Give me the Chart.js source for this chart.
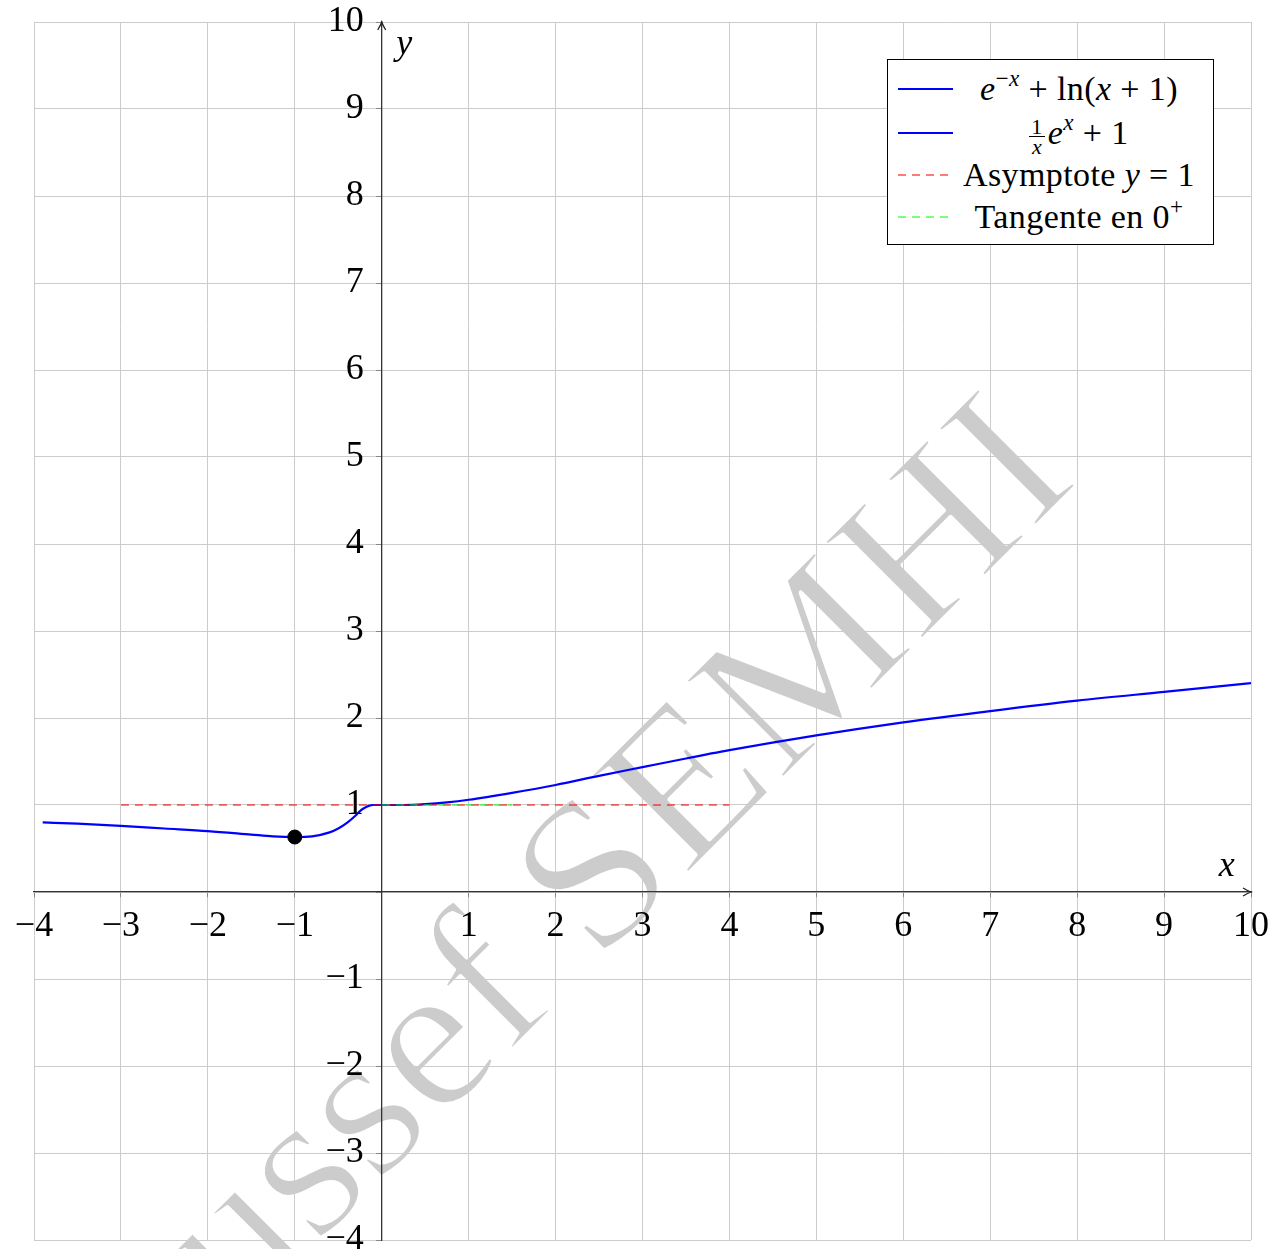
<!DOCTYPE html>
<html>

<head>
    <title>Courbes</title>
    <script src="https://cdn.jsdelivr.net/npm/chart.js"></script>
    <style>
        body { margin: 0; background: #fff; }
        #wrap { position: relative; width: 1286px; height: 1249px; }
        #legend {
            position: absolute; left: 887px; top: 59px; width: 325px; height: 184px;
            border: 1px solid #000; background: #fff;
            font-family: "Liberation Serif", serif; font-size: 34px; color: #000;
        }
        .row { position: absolute; left: 0; width: 325px; height: 40px; }
        .row svg { position: absolute; left: 10px; top: 15px; }
        .row .txt { position: absolute; left: 68px; width: 246px; text-align: center; line-height: 40px; white-space: nowrap; letter-spacing: 0.4px; }
        .sup { font-size: 0.68em; position: relative; top: -0.6em; }
        .frac { display: inline-block; vertical-align: middle; font-size: 22px; line-height: 19px; text-align: center; margin-right: 3px; }
        .frac span { display: block; }
        .frac .num { border-bottom: 1px solid #000; padding: 0 2px; }
    </style>
</head>

<body>
    <div id="wrap">
        <canvas id="chart" width="1286" height="1249"></canvas>
        <div id="legend">
            <div class="row" style="top:9px">
                <svg width="56" height="10"><line x1="0" y1="5" x2="55" y2="5" stroke="#0000ff" stroke-width="2"/></svg>
                <div class="txt"><i>e</i><span class="sup">−<i>x</i></span> + ln(<i>x</i> + 1)</div>
            </div>
            <div class="row" style="top:53px">
                <svg width="56" height="10"><line x1="0" y1="5" x2="55" y2="5" stroke="#0000ff" stroke-width="2"/></svg>
                <div class="txt"><span class="frac"><span class="num">1</span><span><i>x</i></span></span><i>e</i><span class="sup"><i>x</i></span> + 1</div>
            </div>
            <div class="row" style="top:95px">
                <svg width="56" height="10"><line x1="0" y1="5" x2="55" y2="5" stroke="rgba(255,0,0,0.7)" stroke-width="1.3" stroke-dasharray="8 6"/></svg>
                <div class="txt">Asymptote <i>y</i> = 1</div>
            </div>
            <div class="row" style="top:137px">
                <svg width="56" height="10"><line x1="0" y1="5" x2="55" y2="5" stroke="rgba(0,255,0,0.7)" stroke-width="1.3" stroke-dasharray="8 6"/></svg>
                <div class="txt">Tangente en 0<span class="sup">+</span></div>
            </div>
        </div>
    </div>

    <script type="text/javascript">
        // values
        const leftX = [-3.9, -3.5, -3, -2.5, -2, -1.5, -1.25, -1, -0.8, -0.6, -0.5, -0.4, -0.3, -0.25, -0.2, -0.15, -0.1, 0]
        const leftY = [0.80, 0.785, 0.76, 0.73, 0.70, 0.66, 0.64, 0.632, 0.64, 0.685, 0.73, 0.795, 0.88, 0.93, 0.965, 0.99, 1.0, 1.0]

        const rightX = [0, 0.25, 0.5, 0.75, 1, 1.5, 2, 2.5, 3, 3.5, 4, 5, 6, 7, 8, 9, 10]
        const rightY = [1.0, 1.0, 1.01, 1.03, 1.06, 1.14, 1.23, 1.335, 1.435, 1.535, 1.63, 1.80, 1.95, 2.08, 2.20, 2.30, 2.40]

        const asymX = [-3, 4]
        const asymY = [1, 1]
        const tanX = [0, 1.5]
        const tanY = [1, 1]
        const dotX = [-1]
        const dotY = [0.632]

        const xTicks = [-4, -3, -2, -1, 0, 1, 2, 3, 4, 5, 6, 7, 8, 9, 10]
        const yTicks = [-4, -3, -2, -1, 0, 1, 2, 3, 4, 5, 6, 7, 8, 9, 10]

        const pts = (xs, ys) => xs.map((x, i) => ({x: x, y: ys[i]}))
        const fmt = v => v === 0 ? '' : (v < 0 ? '\u2212' + Math.abs(v) : String(v))
        const tickFont = {family: '"Liberation Serif", serif', size: 36}

        const decor = {
            id: 'decor',
            beforeDraw(chart) {
                // watermark, thinned with a white outline
                const ctx = chart.ctx
                ctx.save()
                ctx.translate(1082, 480)
                ctx.rotate(-Math.PI / 4)
                ctx.scale(1.04, 1)
                ctx.font = '212px "Liberation Serif"'
                ctx.textAlign = 'right'
                ctx.textBaseline = 'alphabetic'
                ctx.fillStyle = '#cccccc'
                ctx.fillText('Youssef SEMHI', 0, 0)
                ctx.strokeStyle = '#ffffff'
                ctx.lineWidth = 4
                ctx.lineJoin = 'round'
                ctx.strokeText('Youssef SEMHI', 0, 0)
                ctx.restore()
            },
            afterDraw(chart) {
                const ctx = chart.ctx
                const sx = chart.scales.x, sy = chart.scales.y
                const x0 = sx.getPixelForValue(0), y0 = sy.getPixelForValue(0)
                const xe = sx.getPixelForValue(10), ye = sy.getPixelForValue(10)
                ctx.save()
                ctx.strokeStyle = '#222'
                ctx.lineWidth = 1.3
                ctx.beginPath()
                ctx.moveTo(xe - 8, y0 - 4); ctx.quadraticCurveTo(xe - 3, y0 - 1, xe, y0)
                ctx.quadraticCurveTo(xe - 3, y0 + 1, xe - 8, y0 + 4)
                ctx.moveTo(x0 - 4, ye + 8); ctx.quadraticCurveTo(x0 - 1, ye + 3, x0, ye)
                ctx.quadraticCurveTo(x0 + 1, ye + 3, x0 + 4, ye + 8)
                ctx.stroke()
                ctx.fillStyle = '#000'
                ctx.font = 'italic 36px "Liberation Serif"'
                ctx.textAlign = 'center'
                ctx.textBaseline = 'middle'
                ctx.fillText('x', sx.getPixelForValue(9.72), sy.getPixelForValue(0.29))
                ctx.fillText('y', sx.getPixelForValue(0.26), sy.getPixelForValue(9.74))
                ctx.restore()
            }
        }

        const ctx = document.getElementById('chart')
        let chart = new Chart(ctx, {
            type: 'scatter',
            data: {
                datasets: [{
                        data: pts(dotX, dotY),
                        backgroundColor: '#000',
                        borderColor: '#000',
                        pointRadius: 7,
                        order: 0
                    },
                    {
                        data: pts(tanX, tanY),
                        showLine: true,
                        borderColor: 'rgba(0,255,0,0.7)',
                        borderWidth: 1.3,
                        borderDash: [8, 6],
                        pointRadius: 0,
                        order: 1
                    },
                    {
                        data: pts(asymX, asymY),
                        showLine: true,
                        borderColor: 'rgba(255,0,0,0.7)',
                        borderWidth: 1.3,
                        borderDash: [8, 6],
                        pointRadius: 0,
                        order: 2
                    },
                    {
                        data: pts(rightX, rightY),
                        showLine: true,
                        borderColor: '#0000ff',
                        borderWidth: 2.2,
                        cubicInterpolationMode: 'monotone',
                        pointRadius: 0,
                        order: 3
                    },
                    {
                        data: pts(leftX, leftY),
                        showLine: true,
                        borderColor: '#0000ff',
                        borderWidth: 2.2,
                        cubicInterpolationMode: 'monotone',
                        pointRadius: 0,
                        order: 4
                    },
                ]
            },
            options: {
                responsive: false,
                animation: false,
                devicePixelRatio: 1,
                layout: {padding: {left: 34, right: 35, top: 22, bottom: 9}},
                plugins: {legend: {display: false}, tooltip: {enabled: false}},
                scales: {
                    x: {
                        type: 'linear',
                        min: -4,
                        max: 10,
                        position: {y: 0},
                        afterBuildTicks: s => { s.ticks = xTicks.map(v => ({value: v})) },
                        afterFit: s => { s.height = 0; s.paddingLeft = 0; s.paddingRight = 0 },
                        grid: {color: '#cccccc', lineWidth: 1, tickLength: 5, tickColor: '#888'},
                        border: {display: true, color: '#333', width: 1.3},
                        ticks: {callback: fmt, font: tickFont, color: '#000', padding: 8, autoSkip: false, maxRotation: 0}
                    },
                    y: {
                        type: 'linear',
                        min: -4,
                        max: 10,
                        position: {x: 0},
                        afterBuildTicks: s => { s.ticks = yTicks.map(v => ({value: v})) },
                        afterFit: s => { s.width = 0; s.paddingTop = 0; s.paddingBottom = 0 },
                        grid: {color: '#cccccc', lineWidth: 1, tickLength: 5, tickColor: '#888'},
                        border: {display: true, color: '#333', width: 1.3},
                        // trailing en space keeps the label clear of the axis
                        ticks: {callback: v => v === 0 ? '' : fmt(v) + '\u2002', font: tickFont, color: '#000', autoSkip: false}
                    }
                }
            },
            plugins: [decor]
        })
    </script>
</body>

</html>
